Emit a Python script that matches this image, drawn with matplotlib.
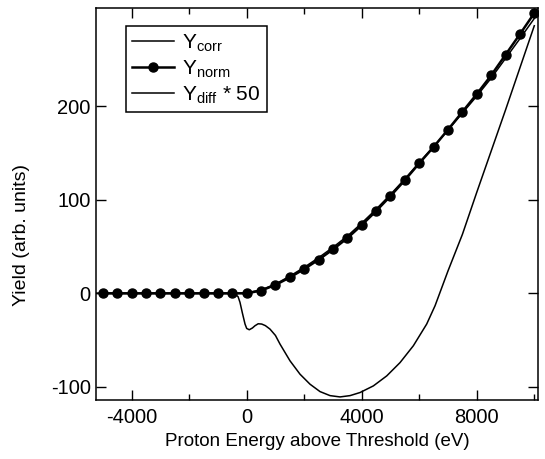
import numpy as np
import matplotlib
matplotlib.use('Agg')
import matplotlib.pyplot as plt
from matplotlib.ticker import MultipleLocator, FixedLocator

plt.rcParams['font.family'] = ['Liberation Sans', 'DejaVu Sans']
plt.rcParams['mathtext.fontset'] = 'custom'
plt.rcParams['mathtext.rm'] = 'Liberation Sans'
plt.rcParams['axes.unicode_minus'] = False

# Y_norm: точки с шагом 500 эВ
e_norm = np.arange(-5000, 10001, 500)
y_norm = [0, 0, 0, 0, 0, 0, 0, 0, 0, 0, 0,
          3, 9, 17, 26, 36, 47, 59, 73, 88, 104,
          121, 139, 156.5, 175, 194, 213, 233, 255, 277, 299.5]

# Y_corr
e_corr = [-5400, -5000, -4000, -3000, -2000, -1000, -500, 0,
          500, 1000, 1500, 2000, 2500, 3000, 3500, 4000, 4500, 5000,
          5500, 6000, 6500, 7000, 7500, 8000, 8500, 9000, 9500, 10000]
y_corr = [0, 0, 0, 0, 0, 0, 0, 0.6,
          3.7, 9.9, 18.4, 27.8, 38.1, 49.2, 61.2, 75.1, 89.9, 105.7,
          122.3, 139.9, 156.8, 174.5, 192.7, 210.8, 230, 251.1, 272.2, 293.8]

# Y_diff * 50
e_diff = [-5400, -1000, -500, -400, -300, -233, -150, -58, 0, 90, 200, 289, 400, 522,
          650, 810, 1000, 1158, 1506, 1854, 2202, 2550, 2898, 3245, 3593,
          3941, 4405, 4870, 5332, 5795, 6259, 6550, 7000, 7500, 8000,
          8500, 9000, 9500, 10000]
y_diff50 = [0, 0, 0, -1, -3.5, -9.6, -21, -32.8, -37.5, -38.9, -37, -34.6, -32.5, -32.8,
            -34.5, -38.2, -45, -54.2, -72.1, -86.4, -97.1, -105, -109.3, -110.7, -109.3,
            -106, -98.9, -88.2, -74, -56, -32.8, -13.2, 24, 63, 108,
            152, 196, 241, 286]

y_ticks = [-100, 0, 100, 200]

fig = plt.figure(figsize=(5.45, 4.59), dpi=100)
ax = fig.add_axes([0.1756, 0.1285, 0.8116, 0.8541])

ax.plot(e_corr, y_corr, color='black', lw=1.1, label=r'Y$_{\mathregular{corr}}$')
ax.plot(e_norm, y_norm, color='black', lw=1.8, marker='o', ms=6.5,
        label=r'Y$_{\mathregular{norm}}$')
ax.plot(e_diff, y_diff50, color='black', lw=1.1,
        label=r'Y$_{\mathregular{diff}}$ * 50')

ax.set_xlim(-5250, 10130)
ax.set_ylim(-114, 305)
ax.xaxis.set_major_locator(MultipleLocator(4000))
ax.xaxis.set_minor_locator(MultipleLocator(2000))
ax.yaxis.set_major_locator(FixedLocator(y_ticks))
ax.tick_params(which='both', direction='in', top=True, right=True, labelsize=14.5)
ax.tick_params(axis='x', pad=6)
ax.tick_params(which='major', length=7, width=1)
ax.tick_params(which='minor', length=4, width=1)
for s in ax.spines.values():
    s.set_linewidth(1.1)

ax.set_xlabel('Proton Energy above Threshold (eV)', fontsize=13.5, labelpad=4)
ax.set_ylabel('Yield (arb. units)', fontsize=14)
ax.yaxis.set_label_coords(-0.148, 0.42)

leg = ax.legend(loc='upper left', bbox_to_anchor=(0.045, 0.98), fontsize=15,
                frameon=True, fancybox=False, edgecolor='black', framealpha=1,
                handlelength=2.0, handletextpad=0.4, borderpad=0.3,
                labelspacing=0.2)
leg.get_frame().set_linewidth(1.1)

fig.savefig('out.png', dpi=100)
